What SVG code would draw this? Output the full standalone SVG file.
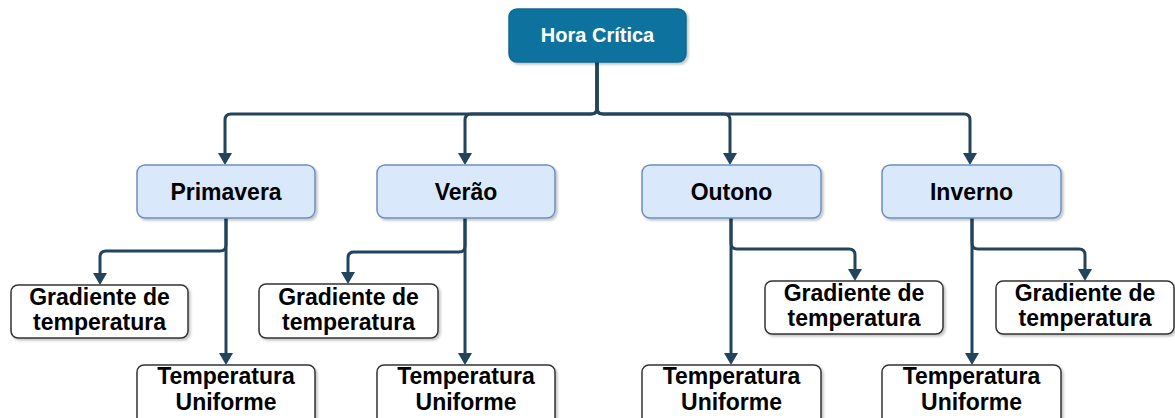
<svg xmlns="http://www.w3.org/2000/svg" width="1175" height="418" viewBox="0 0 1175 418">
<defs>
<marker id="arr" markerUnits="userSpaceOnUse" markerWidth="13" markerHeight="14" refX="0" refY="7" orient="auto" viewBox="0 0 13 14">
<path d="M0,0 L12,7 L0,14 z" fill="#23445d"/>
</marker>
<filter id="sh" x="-10%" y="-10%" width="130%" height="140%">
<feDropShadow dx="2" dy="2" stdDeviation="1.2" flood-color="#000" flood-opacity="0.22"/>
</filter>
<style>
.c{fill:none;stroke:#23445d;stroke-width:3;marker-end:url(#arr)}
.t{font-family:"Liberation Sans",Arial,sans-serif;font-weight:bold;font-size:23px;text-anchor:middle;fill:#000}
.top{fill:#10739e;stroke:#0e6a92;stroke-width:1.5;filter:url(#sh)}
.tt{font-family:"Liberation Sans",Arial,sans-serif;font-weight:bold;font-size:20px;text-anchor:middle;fill:#fff}
.s{fill:#dae8fc;stroke:#6c8ebf;stroke-width:1.5;filter:url(#sh)}
.w{fill:#fff;stroke:#333;stroke-width:1.5;filter:url(#sh)}
</style>
</defs>
<rect width="1175" height="418" fill="#fff"/>
<g id="connectors">
<path class="c" d="M597,62 V108 Q597,114 591,114 H231 Q225,114 225,120 V153"/>
<path class="c" d="M597,62 V108 Q597,114 591,114 H471 Q465,114 465,120 V153"/>
<path class="c" d="M597,62 V108 Q597,114 603,114 H724 Q730,114 730,120 V153"/>
<path class="c" d="M597,62 V108 Q597,114 603,114 H964 Q970,114 970,120 V153"/>
<path class="c" d="M226,218 V353"/>
<path class="c" d="M226,218 V245 Q226,251 220,251 H106 Q100,251 100,257 V273"/>
<path class="c" d="M465,218 V353"/>
<path class="c" d="M465,218 V246 Q465,252 459,252 H354 Q348,252 348,258 V272"/>
<path class="c" d="M731,218 V353"/>
<path class="c" d="M731,218 V243 Q731,249 737,249 H849 Q855,249 855,255 V269"/>
<path class="c" d="M972,218 V353"/>
<path class="c" d="M972,218 V243 Q972,249 978,249 H1079 Q1085,249 1085,255 V269"/>
</g>
<g id="hora-critica"><rect class="top" x="509" y="9" width="177" height="53" rx="8"/><text class="tt" x="597.5" y="42">Hora Crítica</text></g>
<g id="primavera"><rect class="s" x="137" y="165" width="178" height="53" rx="8"/><text class="t" x="226" y="200">Primavera</text></g>
<g id="verao"><rect class="s" x="377" y="165" width="178" height="53" rx="8"/><text class="t" x="466" y="200">Verão</text></g>
<g id="outono"><rect class="s" x="642" y="165" width="179" height="53" rx="8"/><text class="t" x="731.5" y="200">Outono</text></g>
<g id="inverno"><rect class="s" x="882" y="165" width="179" height="53" rx="8"/><text class="t" x="971.5" y="200">Inverno</text></g>
<g id="grad-primavera"><rect class="w" x="11" y="285" width="177" height="53" rx="7"/><text class="t" x="99.5" y="305">Gradiente de</text><text class="t" x="99.5" y="330">temperatura</text></g>
<g id="grad-verao"><rect class="w" x="259" y="284" width="179" height="54" rx="7"/><text class="t" x="348.5" y="305">Gradiente de</text><text class="t" x="348.5" y="330">temperatura</text></g>
<g id="grad-outono"><rect class="w" x="765" y="281" width="178" height="53" rx="7"/><text class="t" x="854" y="301">Gradiente de</text><text class="t" x="854" y="326">temperatura</text></g>
<g id="grad-inverno"><rect class="w" x="996" y="281" width="178" height="53" rx="7"/><text class="t" x="1085" y="301">Gradiente de</text><text class="t" x="1085" y="326">temperatura</text></g>
<g id="unif-primavera"><rect class="w" x="137" y="365" width="178" height="60" rx="7"/><text class="t" x="226" y="384">Temperatura</text><text class="t" x="226" y="410">Uniforme</text></g>
<g id="unif-verao"><rect class="w" x="377" y="365" width="178" height="60" rx="7"/><text class="t" x="466" y="384">Temperatura</text><text class="t" x="466" y="410">Uniforme</text></g>
<g id="unif-outono"><rect class="w" x="642" y="365" width="179" height="60" rx="7"/><text class="t" x="731.5" y="384">Temperatura</text><text class="t" x="731.5" y="410">Uniforme</text></g>
<g id="unif-inverno"><rect class="w" x="882" y="365" width="179" height="60" rx="7"/><text class="t" x="971.5" y="384">Temperatura</text><text class="t" x="971.5" y="410">Uniforme</text></g>
</svg>
